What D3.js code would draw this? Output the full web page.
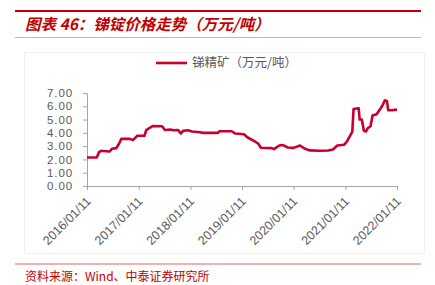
<!DOCTYPE html>
<html lang="zh">
<head>
  <meta charset="UTF-8" />
  <title>锑锭价格走势</title>
  <script src="https://d3js.org/d3.v7.min.js"></script>
  <style>
    body { margin: 0; background: #fff; }
    svg { display: block; font-family: "Liberation Sans", Arial, "Noto Sans CJK SC", sans-serif; }
  </style>
</head>
<body>
  <svg id="chart" width="435" height="285"></svg>
  <script>
    const title = "图表 46：锑锭价格走势（万元/吨）";
    const seriesName = "锑精矿（万元/吨）";
    const source = "资料来源：Wind、中泰证券研究所";

    const dates = [
      "2016-01-11", "2016-03-20", "2016-04-05", "2016-04-20", "2016-05-25", "2016-06-20",
      "2016-07-05", "2016-08-05", "2016-08-20", "2016-09-10", "2016-11-10", "2016-12-01",
      "2016-12-15", "2017-01-01", "2017-02-20", "2017-03-05", "2017-04-02", "2017-04-22",
      "2017-06-25", "2017-07-15", "2017-08-20", "2017-09-18", "2017-10-15", "2017-11-05",
      "2017-11-20", "2017-12-25", "2018-01-22", "2018-03-20", "2018-04-10", "2018-07-25",
      "2018-08-05", "2018-10-30", "2018-11-25", "2019-01-25", "2019-02-20", "2019-04-05",
      "2019-05-05", "2019-05-25", "2019-08-10", "2019-08-25", "2019-10-01", "2019-10-28",
      "2019-12-01", "2020-01-11", "2020-02-25", "2020-04-01", "2020-05-05", "2020-07-15",
      "2020-09-10", "2020-10-15", "2020-11-15", "2021-01-01", "2021-01-22", "2021-02-14",
      "2021-03-01", "2021-03-10", "2021-04-15", "2021-04-22", "2021-05-07", "2021-05-22",
      "2021-06-05", "2021-06-18", "2021-07-08", "2021-07-22", "2021-08-20", "2021-09-12",
      "2021-10-02", "2021-10-17", "2021-11-01", "2021-11-10", "2021-12-05", "2022-01-11"
    ];
    const prices = [
      2.15, 2.15, 2.55, 2.65, 2.62, 2.6,
      2.8, 2.85, 3.1, 3.55, 3.55, 3.45,
      3.6, 3.78, 3.78, 4.2, 4.4, 4.52,
      4.5, 4.22, 4.25, 4.2, 4.22, 3.95,
      4.15, 4.2, 4.1, 4.05, 4.0, 4.0,
      4.12, 4.12, 3.95, 3.9, 3.65, 3.4,
      3.2, 2.88, 2.85, 2.78, 3.05, 3.08,
      2.9, 2.87, 3.05, 2.8, 2.68, 2.65,
      2.67, 2.75, 3.05, 3.1, 3.35, 3.8,
      4.1, 5.8, 5.85, 5.0, 5.0, 4.15,
      4.1, 4.35, 4.5, 5.3, 5.4, 5.75,
      6.1, 6.45, 6.4, 5.7, 5.7, 5.75
    ];
    const xTickLabels = ["2016/01/11", "2017/01/11", "2018/01/11", "2019/01/11", "2020/01/11", "2021/01/11", "2022/01/11"];
    const yTicks = [0, 1, 2, 3, 4, 5, 6, 7];

    const parse = d3.timeParse("%Y-%m-%d");
    const data = dates.map((d, i) => ({ date: parse(d), value: prices[i] }));
    const tickDates = xTickLabels.map(d => d3.timeParse("%Y/%m/%d")(d));

    const red = "#c00000";
    const lineColor = "#c8002d";
    const gray = "#595959";

    const svg = d3.select("#chart");

    // header / footer rules
    svg.append("line").attr("x1", 15).attr("x2", 421).attr("y1", 11).attr("y2", 11)
      .attr("stroke", red).attr("stroke-width", 2);
    svg.append("line").attr("x1", 15).attr("x2", 421).attr("y1", 37.5).attr("y2", 37.5)
      .attr("stroke", "#e58a8a").attr("stroke-width", 0.8);
    svg.append("line").attr("x1", 15).attr("x2", 421).attr("y1", 264).attr("y2", 264)
      .attr("stroke", "#e06666").attr("stroke-width", 1);

    svg.append("text")
      .attr("x", 25).attr("y", 30)
      .attr("fill", red)
      .attr("font-size", 15.5)
      .attr("font-weight", "bold")
      .attr("font-style", "italic")
      .attr("font-family", "'Noto Sans CJK SC', sans-serif")
      .text(title);

    svg.append("text")
      .attr("x", 25).attr("y", 281)
      .attr("fill", red)
      .attr("font-size", 12)
      .attr("font-family", "'Noto Sans CJK SC', sans-serif")
      .text(source);

    // faint plot frame
    svg.append("rect").attr("x", 24.5).attr("y", 52.5).attr("width", 400).attr("height", 201)
      .attr("fill", "none").attr("stroke", "#f0f0f0");

    const x = d3.scaleTime().domain([tickDates[0], tickDates[tickDates.length - 1]]).range([87, 397]);
    const y = d3.scaleLinear().domain([0, 7]).range([186, 93]);

    // y axis
    const yAxis = svg.append("g").attr("transform", "translate(87,0)")
      .call(d3.axisLeft(y).tickValues(yTicks).tickFormat(d3.format(".2f")).tickSize(4).tickPadding(10));
    yAxis.select(".domain").attr("stroke", "#a6a6a6");
    yAxis.selectAll(".tick line").attr("stroke", "#a6a6a6");
    yAxis.selectAll("text").attr("fill", gray).attr("font-size", 11.5)
      .attr("letter-spacing", 0.9)
      .attr("font-family", "'Liberation Sans', Arial, sans-serif");

    // x axis
    const xAxis = svg.append("g").attr("transform", "translate(0,186)")
      .call(d3.axisBottom(x).tickValues(tickDates).tickFormat((d, i) => xTickLabels[i]).tickSize(4).tickSizeOuter(0));
    xAxis.select(".domain").attr("stroke", "#a6a6a6");
    xAxis.selectAll(".tick line").attr("stroke", "#a6a6a6");
    xAxis.selectAll("text")
      .attr("fill", gray).attr("font-size", 12.5)
      .attr("font-family", "'Liberation Sans', Arial, sans-serif")
      .attr("text-anchor", "end")
      .attr("x", 0).attr("y", 0)
      .attr("dy", "0.35em")
      .attr("transform", "translate(1,13) rotate(-45)");

    // series
    const line = d3.line().x(d => x(d.date)).y(d => y(d.value));
    svg.append("path").datum(data)
      .attr("fill", "none")
      .attr("stroke", lineColor)
      .attr("stroke-width", 2.6)
      .attr("stroke-linejoin", "round")
      .attr("d", line);

    // legend
    svg.append("line").attr("x1", 156).attr("x2", 187).attr("y1", 63).attr("y2", 63)
      .attr("stroke", lineColor).attr("stroke-width", 2.6);
    svg.append("text").attr("x", 192).attr("y", 67)
      .attr("fill", gray).attr("font-size", 12.5)
      .attr("font-family", "'Noto Sans CJK SC', sans-serif")
      .text(seriesName);
  </script>
</body>
</html>
